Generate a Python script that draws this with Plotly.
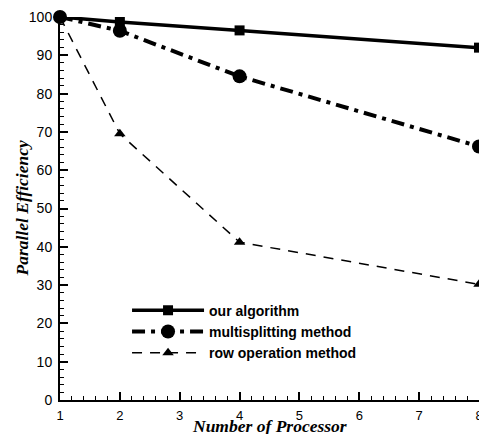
import plotly.graph_objects as go

processors = [1, 2, 4, 8]
our_algorithm = [100, 98.7, 96.5, 92.0]
multisplitting = [100, 96.4, 84.5, 66.2]
row_operation = [100, 69.5, 41.2, 30.2]

names = ["our algorithm", "multisplitting method", "row operation method"]
x_title = "Number of Processor"
y_title = "Parallel Efficiency"

fig = go.Figure()
fig.add_trace(go.Scatter(
    x=processors, y=our_algorithm, name=names[0], mode="lines+markers",
    line=dict(color="black", width=3.5, dash="solid"),
    marker=dict(symbol="square", size=10, color="black"), cliponaxis=False))
fig.add_trace(go.Scatter(
    x=processors, y=multisplitting, name=names[1], mode="lines+markers",
    line=dict(color="black", width=4, dash="13px,6px,4px,6px"),
    marker=dict(symbol="circle", size=14, color="black"), cliponaxis=False))
fig.add_trace(go.Scatter(
    x=processors, y=row_operation, name=names[2], mode="lines+markers",
    line=dict(color="black", width=1.5, dash="10px,8px"),
    marker=dict(symbol="triangle-up", size=10, color="black"), cliponaxis=False))

title_font = dict(family="Liberation Serif, Times New Roman", size=17.5, color="black",
                  weight="bold", style="italic")

axis_common = dict(
    showline=True, linecolor="black", linewidth=2, mirror=False,
    showgrid=False, zeroline=False, automargin=False,
    ticks="inside", ticklen=8, tickwidth=2, tickcolor="black",
    ticklabeloverflow="allow",
)

fig.update_layout(
    width=479, height=434,
    margin=dict(l=60, r=0, t=17, b=34),
    paper_bgcolor="white", plot_bgcolor="white",
    showlegend=True,
    legend=dict(
        x=0.16, y=0.275, xanchor="left", yanchor="top",
        bgcolor="rgba(0,0,0,0)", borderwidth=0,
        font=dict(family="Liberation Sans, Arial", size=14, color="black", weight="bold"),
        itemwidth=72, tracegroupgap=0,
    ),
    xaxis=dict(
        range=[1, 8], tickmode="linear", tick0=1, dtick=1,
        minor=dict(ticks="inside", ticklen=4, tickwidth=1, tickcolor="black", dtick=0.2),
        ticklabelstandoff=2,
        tickfont=dict(family="Liberation Sans, Arial", size=13, color="black"),
        **axis_common),
    yaxis=dict(
        range=[0, 100], tickmode="linear", tick0=0, dtick=10,
        minor=dict(ticks="inside", ticklen=4, tickwidth=1, tickcolor="black", dtick=2),
        ticklabelstandoff=3,
        tickfont=dict(family="Liberation Sans, Arial", size=14, color="black"),
        **axis_common),
    annotations=[
        dict(text=x_title, xref="paper", yref="paper", x=0.5, y=-0.067,
             xanchor="center", yanchor="middle", showarrow=False, font=title_font),
        dict(text=y_title, xref="paper", yref="paper", x=-0.0907, y=0.5,
             xanchor="center", yanchor="middle", textangle=-90, showarrow=False,
             font=title_font),
    ],
)

fig.write_html("out.html")
